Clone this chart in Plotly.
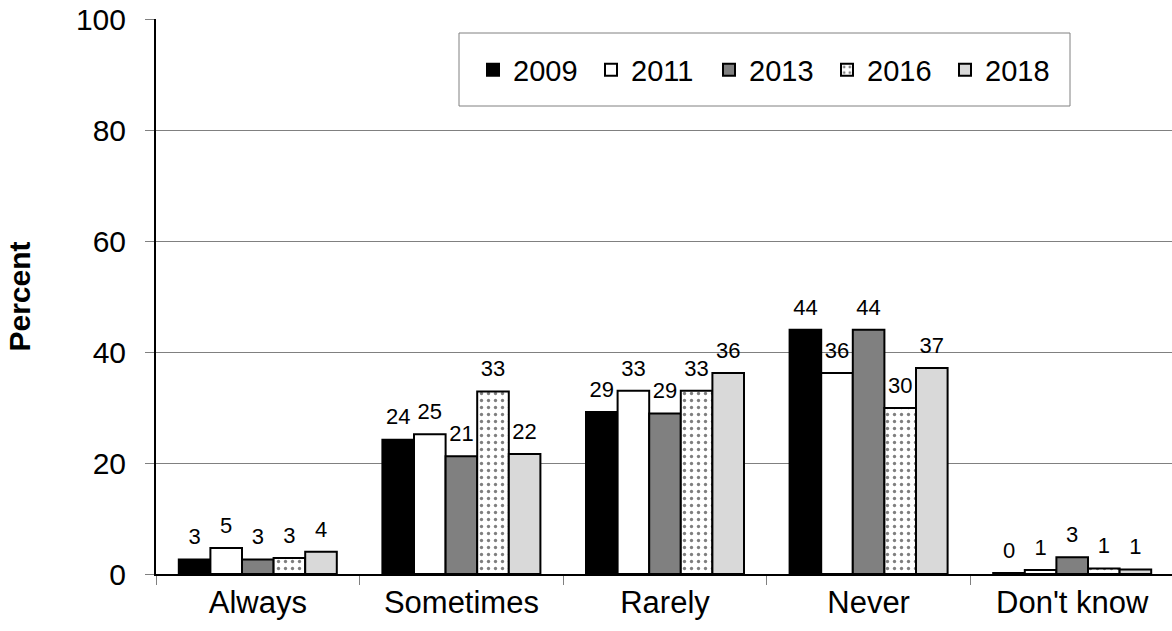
import plotly.graph_objects as go

categories = ["Always", "Sometimes", "Rarely", "Never", "Don't know"]
years = ["2009", "2011", "2013", "2016", "2018"]

v2009 = [2.6, 24.2, 29.2, 44.0, 0.2]
v2011 = [4.7, 25.2, 33.0, 36.2, 0.7]
v2013 = [2.6, 21.2, 28.9, 44.0, 3.0]
v2016 = [2.9, 32.9, 33.0, 29.9, 1.0]
v2018 = [4.0, 21.6, 36.2, 37.1, 0.8]
series = [v2009, v2011, v2013, v2016, v2018]

y_ticks = [0, 20, 40, 60, 80, 100]

fills = ["#000000", "#ffffff", "#808080", "#ffffff", "#d9d9d9"]
FONT = "Liberation Sans, Arial, Helvetica, sans-serif"

W, H = 1172, 631
ML, MR, MT, MB = 156, 0, 19, 57
cat_px = 203.6
plot_w = W - ML - MR
BARGAP = 0.224

fig = go.Figure()
for i, (yr, vals) in enumerate(zip(years, series)):
    if yr == "2016":
        pattern = dict(shape=".", fgcolor="#000000", bgcolor="#ffffff", size=7, solidity=0.18)
    else:
        pattern = dict(shape="")
    fig.add_trace(go.Bar(
        x=categories, y=vals, name=yr, offsetgroup=f"g{i}",
        marker=dict(color=fills[i], line=dict(color="#000000", width=2), pattern=pattern),
        hoverinfo="skip",
    ))
for i, (yr, vals) in enumerate(zip(years, series)):
    fig.add_trace(go.Scatter(
        x=categories, y=vals, mode="markers+text", offsetgroup=f"g{i}",
        text=[f"{v:.0f}" for v in vals], textposition="top center",
        textfont=dict(family=FONT, size=22, color="#000000"),
        marker=dict(size=14, opacity=0), showlegend=False, hoverinfo="skip",
        cliponaxis=False,
    ))

# legend frame
lx0, lx1, ly0, ly1 = 459, 1070, 33, 106
ph = H - MT - MB
fig.add_shape(type="rect", xref="paper", yref="paper",
              x0=(lx0 - ML) / plot_w, x1=(lx1 - ML) / plot_w,
              y0=(H - MB - ly1) / ph, y1=(H - MB - ly0) / ph,
              line=dict(color="#808080", width=1), fillcolor="#ffffff", layer="above")

fig.update_layout(
    width=W, height=H,
    margin=dict(l=ML, r=MR, t=MT, b=MB, pad=0),
    paper_bgcolor="#ffffff", plot_bgcolor="#ffffff",
    barmode="group", bargap=BARGAP, bargroupgap=0,
    scattermode="group", scattergap=BARGAP,
    font=dict(family=FONT, color="#000000"),
    showlegend=True,
    legend=dict(orientation="h", x=(473 - ML) / plot_w, xanchor="left",
                y=(H - MB - 70) / ph, yanchor="middle",
                font=dict(family=FONT, size=29, color="#000000"),
                bgcolor="rgba(0,0,0,0)", borderwidth=0,
                entrywidth=73, entrywidthmode="pixels", itemwidth=30,
                traceorder="normal"),
    xaxis=dict(
        type="category", categoryorder="array", categoryarray=categories,
        range=[-0.5, -0.5 + plot_w / cat_px],
        showline=True, linecolor="#000000", linewidth=2,
        ticks="outside", tickson="boundaries", ticklen=9, tickcolor="#808080", tickwidth=1,
        tickfont=dict(family=FONT, size=31, color="#000000"),
        showgrid=False, zeroline=False,
    ),
    yaxis=dict(
        range=[0, 100], tickvals=y_ticks, ticktext=[str(t) for t in y_ticks],
        showline=True, linecolor="#000000", linewidth=2,
        ticks="outside", ticklen=9, tickcolor="#808080", tickwidth=1,
        ticklabelstandoff=13,
        tickfont=dict(family=FONT, size=30, color="#000000"),
        showgrid=True, gridcolor="#808080", gridwidth=1, zeroline=False,
        title=dict(text="<b>Percent</b>", font=dict(family=FONT, size=30, color="#000000"), standoff=36),
    ),
)

fig.write_html("out.html", config={"displayModeBar": False},
               post_script="document.body.style.margin='0px';")
